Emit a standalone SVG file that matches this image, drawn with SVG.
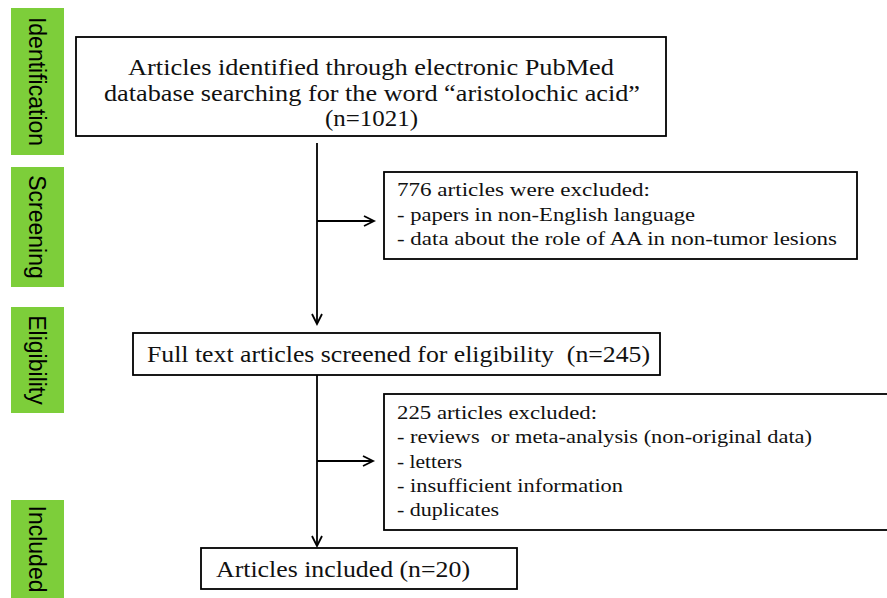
<svg xmlns="http://www.w3.org/2000/svg" width="887" height="598" viewBox="0 0 887 598">
<defs>
<marker id="arr" markerWidth="14" markerHeight="14" refX="11" refY="6" orient="auto" markerUnits="userSpaceOnUse">
<path d="M1,1 L11,6 L1,11" fill="none" stroke="#000" stroke-width="1.8"/>
</marker>
<style>
.stage{fill:#7DCE3A;}
.stxt{font-family:"Liberation Sans",Arial,sans-serif;font-size:23px;fill:#000;text-anchor:middle;dominant-baseline:central;}
.box{fill:#fff;stroke:#000;stroke-width:1.8;}
.t{font-family:"Liberation Serif","Times New Roman",serif;fill:#111;white-space:pre;}
.big{font-size:23px;}
.sm{font-size:19px;}
.conn{fill:none;stroke:#000;stroke-width:1.8;}
</style>
</defs>
<rect width="887" height="598" fill="#fff"/>
<g id="stage-identification"><rect class="stage" x="11" y="8" width="53" height="147"/><text class="stxt" transform="translate(37,81.5) rotate(90)">Identification</text></g>
<g id="stage-screening"><rect class="stage" x="11" y="167" width="53" height="120"/><text class="stxt" transform="translate(37,227) rotate(90)">Screening</text></g>
<g id="stage-eligibility"><rect class="stage" x="11" y="307" width="53" height="106"/><text class="stxt" transform="translate(37,360) rotate(90)">Eligibility</text></g>
<g id="stage-included"><rect class="stage" x="11" y="500" width="53" height="110"/><text class="stxt" transform="translate(37,549) rotate(90)">Included</text></g>

<g id="connectors">
<path class="conn" d="M317,143 V324" marker-end="url(#arr)"/>
<path class="conn" d="M317,221 H374" marker-end="url(#arr)"/>
<path class="conn" d="M317,375 V546" marker-end="url(#arr)"/>
<path class="conn" d="M317,461 H373" marker-end="url(#arr)"/>
</g>

<g id="node-identified"><rect class="box" x="76" y="37" width="590" height="99"/>
<text class="t big" x="128" y="75" textLength="486" lengthAdjust="spacingAndGlyphs">Articles identified through electronic PubMed</text>
<text class="t big" x="104" y="101" textLength="536" lengthAdjust="spacingAndGlyphs">database searching for the word “aristolochic acid”</text>
<text class="t big" x="325" y="126" textLength="93" lengthAdjust="spacingAndGlyphs">(n=1021)</text>
</g>

<g id="node-excluded1"><rect class="box" x="384" y="172" width="473" height="87"/>
<text class="t sm" x="397" y="196" textLength="253" lengthAdjust="spacingAndGlyphs">776 articles were excluded:</text>
<text class="t sm" x="397" y="221" textLength="298" lengthAdjust="spacingAndGlyphs">- papers in non-English language</text>
<text class="t sm" x="397" y="245" textLength="440" lengthAdjust="spacingAndGlyphs">- data about the role of AA in non-tumor lesions</text>
</g>

<g id="node-fulltext"><rect class="box" x="133" y="333" width="527" height="42"/>
<text class="t big" x="147" y="362" textLength="503" lengthAdjust="spacingAndGlyphs">Full text articles screened for eligibility  (n=245)</text>
</g>

<g id="node-excluded2"><rect class="box" x="384" y="394" width="520" height="136"/>
<text class="t sm" x="397" y="419" textLength="200" lengthAdjust="spacingAndGlyphs">225 articles excluded:</text>
<text class="t sm" x="397" y="443" textLength="415" lengthAdjust="spacingAndGlyphs">- reviews  or meta-analysis (non-original data)</text>
<text class="t sm" x="397" y="468" textLength="65" lengthAdjust="spacingAndGlyphs">- letters</text>
<text class="t sm" x="397" y="492" textLength="226" lengthAdjust="spacingAndGlyphs">- insufficient information</text>
<text class="t sm" x="397" y="516" textLength="102" lengthAdjust="spacingAndGlyphs">- duplicates</text>
</g>

<g id="node-included"><rect class="box" x="201" y="548" width="316" height="41"/>
<text class="t big" x="216" y="577" textLength="254" lengthAdjust="spacingAndGlyphs">Articles included (n=20)</text>
</g>
</svg>
